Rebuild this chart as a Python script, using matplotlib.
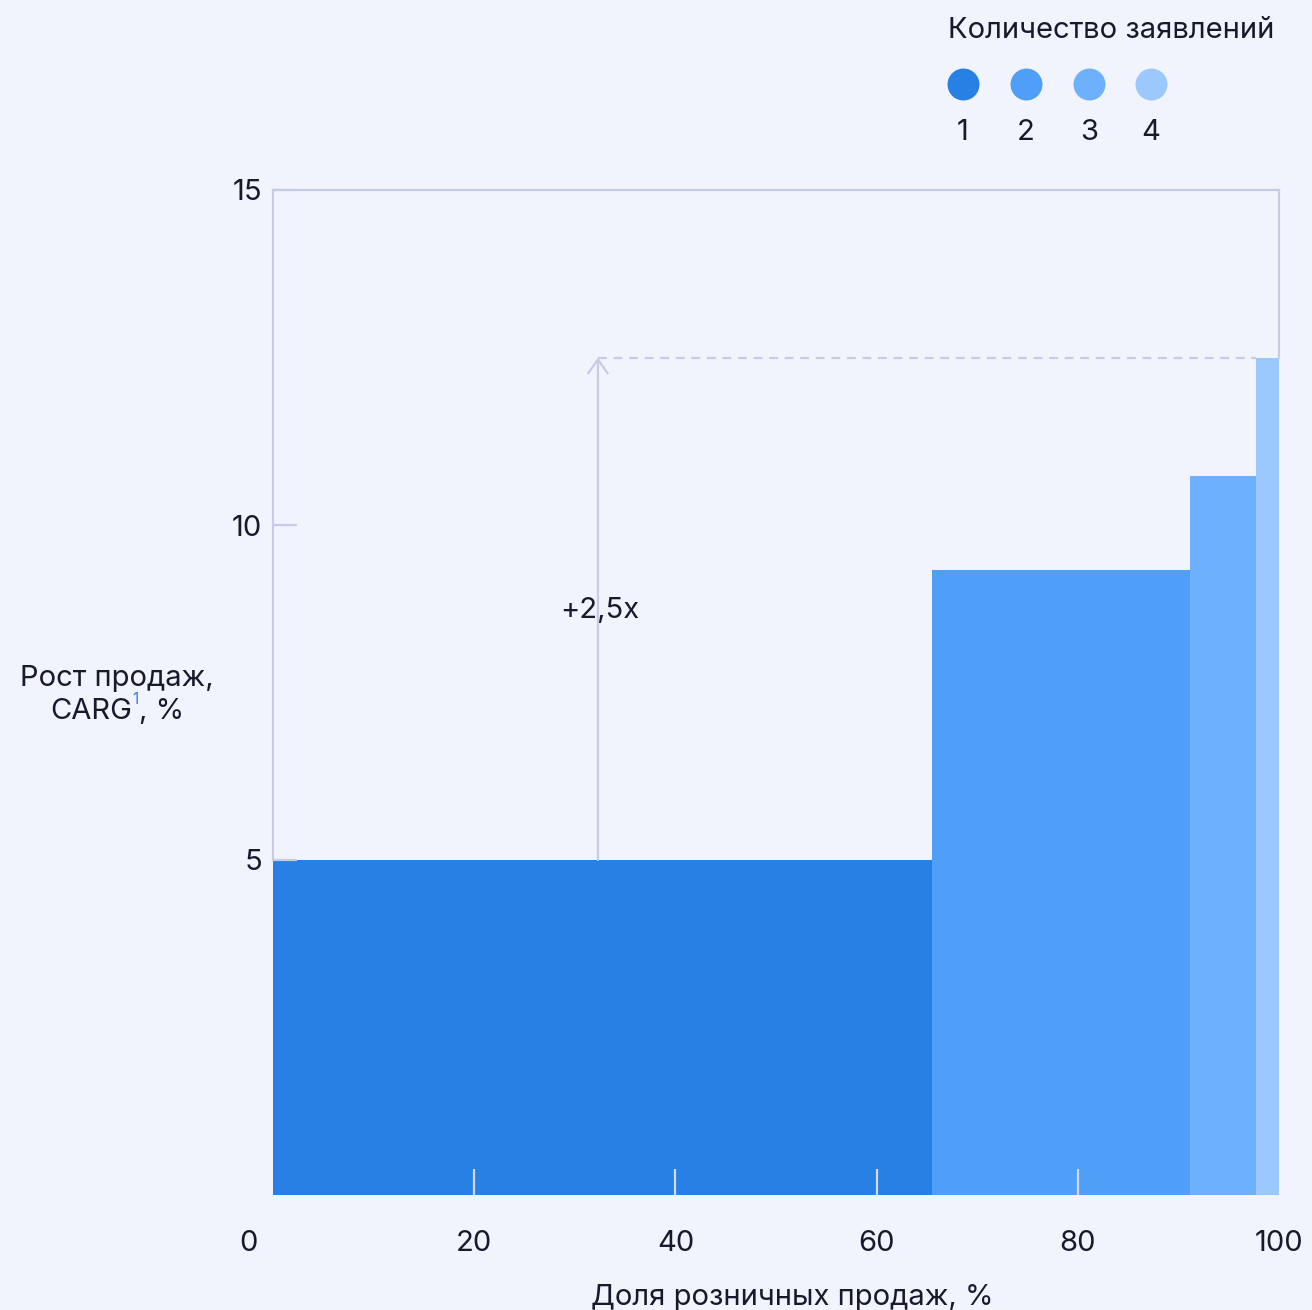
import matplotlib.pyplot as plt
import matplotlib.transforms as mtransforms

# data
counts = ['1', '2', '3', '4']
share_bounds = [0, 65.5, 91.2, 97.7, 100]      # cumulative share of retail sales, %
growth = [5.0, 9.33, 10.73, 12.5]               # sales growth CAGR, %
colors = ['#2780e3', '#4f9ef8', '#6db0fd', '#9bc8fd']
x_ticks = [0, 20, 40, 60, 80, 100]
y_ticks = [5, 10, 15]
arrow_x = 32.3
arrow_label = '+2,5x'

BG = '#f1f4fc'
LINE = '#c6cce6'
TXT = '#171a2c'
FS = 21

plt.rcParams['font.family'] = ['Inter', 'DejaVu Sans']

fig = plt.figure(figsize=(13.12, 13.10), dpi=100, facecolor=BG)
ax = fig.add_axes([273 / 1312, 1 - 1195 / 1310, 1006 / 1312, 1005 / 1310])
ax.set_facecolor(BG)

lefts = share_bounds[:-1]
widths = [b - a for a, b in zip(share_bounds[:-1], share_bounds[1:])]
ax.bar(lefts, growth, width=widths, align='edge', color=colors, linewidth=0, zorder=1)

ax.set_xlim(0, 100)
ax.set_ylim(0, 15)

for side in ['top', 'left', 'right']:
    ax.spines[side].set_color(LINE)
    ax.spines[side].set_linewidth(1.6)
ax.spines['bottom'].set_visible(False)
ax.spines['left'].set_bounds(growth[0], 15)
ax.spines['right'].set_bounds(growth[-1], 15)

ax.set_yticks(y_ticks)
ax.set_yticklabels([str(v) for v in y_ticks])
ax.tick_params(axis='y', direction='in', length=17, width=1.6, color=LINE,
               labelsize=FS, labelcolor=TXT, pad=8)

ax.set_xticks(x_ticks)
ax.set_xticklabels([str(v) for v in x_ticks])
ax.tick_params(axis='x', direction='in', length=19, width=1.6, color='#d3daef',
               labelsize=FS, labelcolor=TXT, pad=25)
xt = ax.xaxis.get_major_ticks()
xt[0].tick1line.set_visible(False)
xt[-1].tick1line.set_visible(False)
lab0 = ax.get_xticklabels()[0]
lab0.set_transform(lab0.get_transform() + mtransforms.ScaledTranslation(-25 / 100, 0, fig.dpi_scale_trans))

# growth arrow and dashed reference line
ax.annotate('', xy=(arrow_x, growth[-1]), xytext=(arrow_x, growth[0]),
            arrowprops=dict(arrowstyle='->, head_length=0.5, head_width=0.35', mutation_scale=20,
                            color=LINE, lw=1.6, shrinkA=0, shrinkB=0), zorder=2)
ax.hlines(growth[-1], arrow_x, share_bounds[-2], colors=LINE, linewidth=1.6,
          linestyles=(0, (4, 3)), zorder=0.5)
ax.text(arrow_x + 0.2, 8.73, arrow_label, ha='center', va='center', fontsize=FS, color=TXT)

# axis titles
fig.text(117 / 1312, 1 - 686 / 1310, 'Рост продаж,', ha='center', va='baseline',
         fontsize=FS, color=TXT)
t_carg = fig.text(50 / 1312, 1 - 719 / 1310, 'CARG', ha='left', va='baseline', fontsize=FS, color=TXT)
ax.annotate('1', xy=(1, 0), xycoords=t_carg, xytext=(0, 13), textcoords='offset points',
            ha='left', va='bottom', fontsize=11, color=colors[0])
ax.annotate(', %', xy=(1, 0), xycoords=t_carg, xytext=(5, 0), textcoords='offset points',
            ha='left', va='bottom', fontsize=FS, color=TXT)
fig.text(792 / 1312, 1 - 1305 / 1310, 'Доля розничных продаж, %', ha='center', va='baseline',
         fontsize=FS, color=TXT)

# legend
fig.text(948 / 1312, 1 - 38 / 1310, 'Количество заявлений', ha='left', va='baseline',
         fontsize=FS, color=TXT)
leg_x = [963, 1026, 1089, 1151]
for lx, c, lab in zip(leg_x, colors, counts):
    fig.add_artist(plt.Line2D([lx / 1312], [1 - 84 / 1310], marker='o', markersize=23,
                              markerfacecolor=c, markeredgewidth=0, linestyle='none',
                              transform=fig.transFigure))
    fig.text(lx / 1312, 1 - 140 / 1310, lab, ha='center', va='baseline', fontsize=FS, color=TXT)

fig.savefig('out.png', dpi=100, facecolor=BG)
